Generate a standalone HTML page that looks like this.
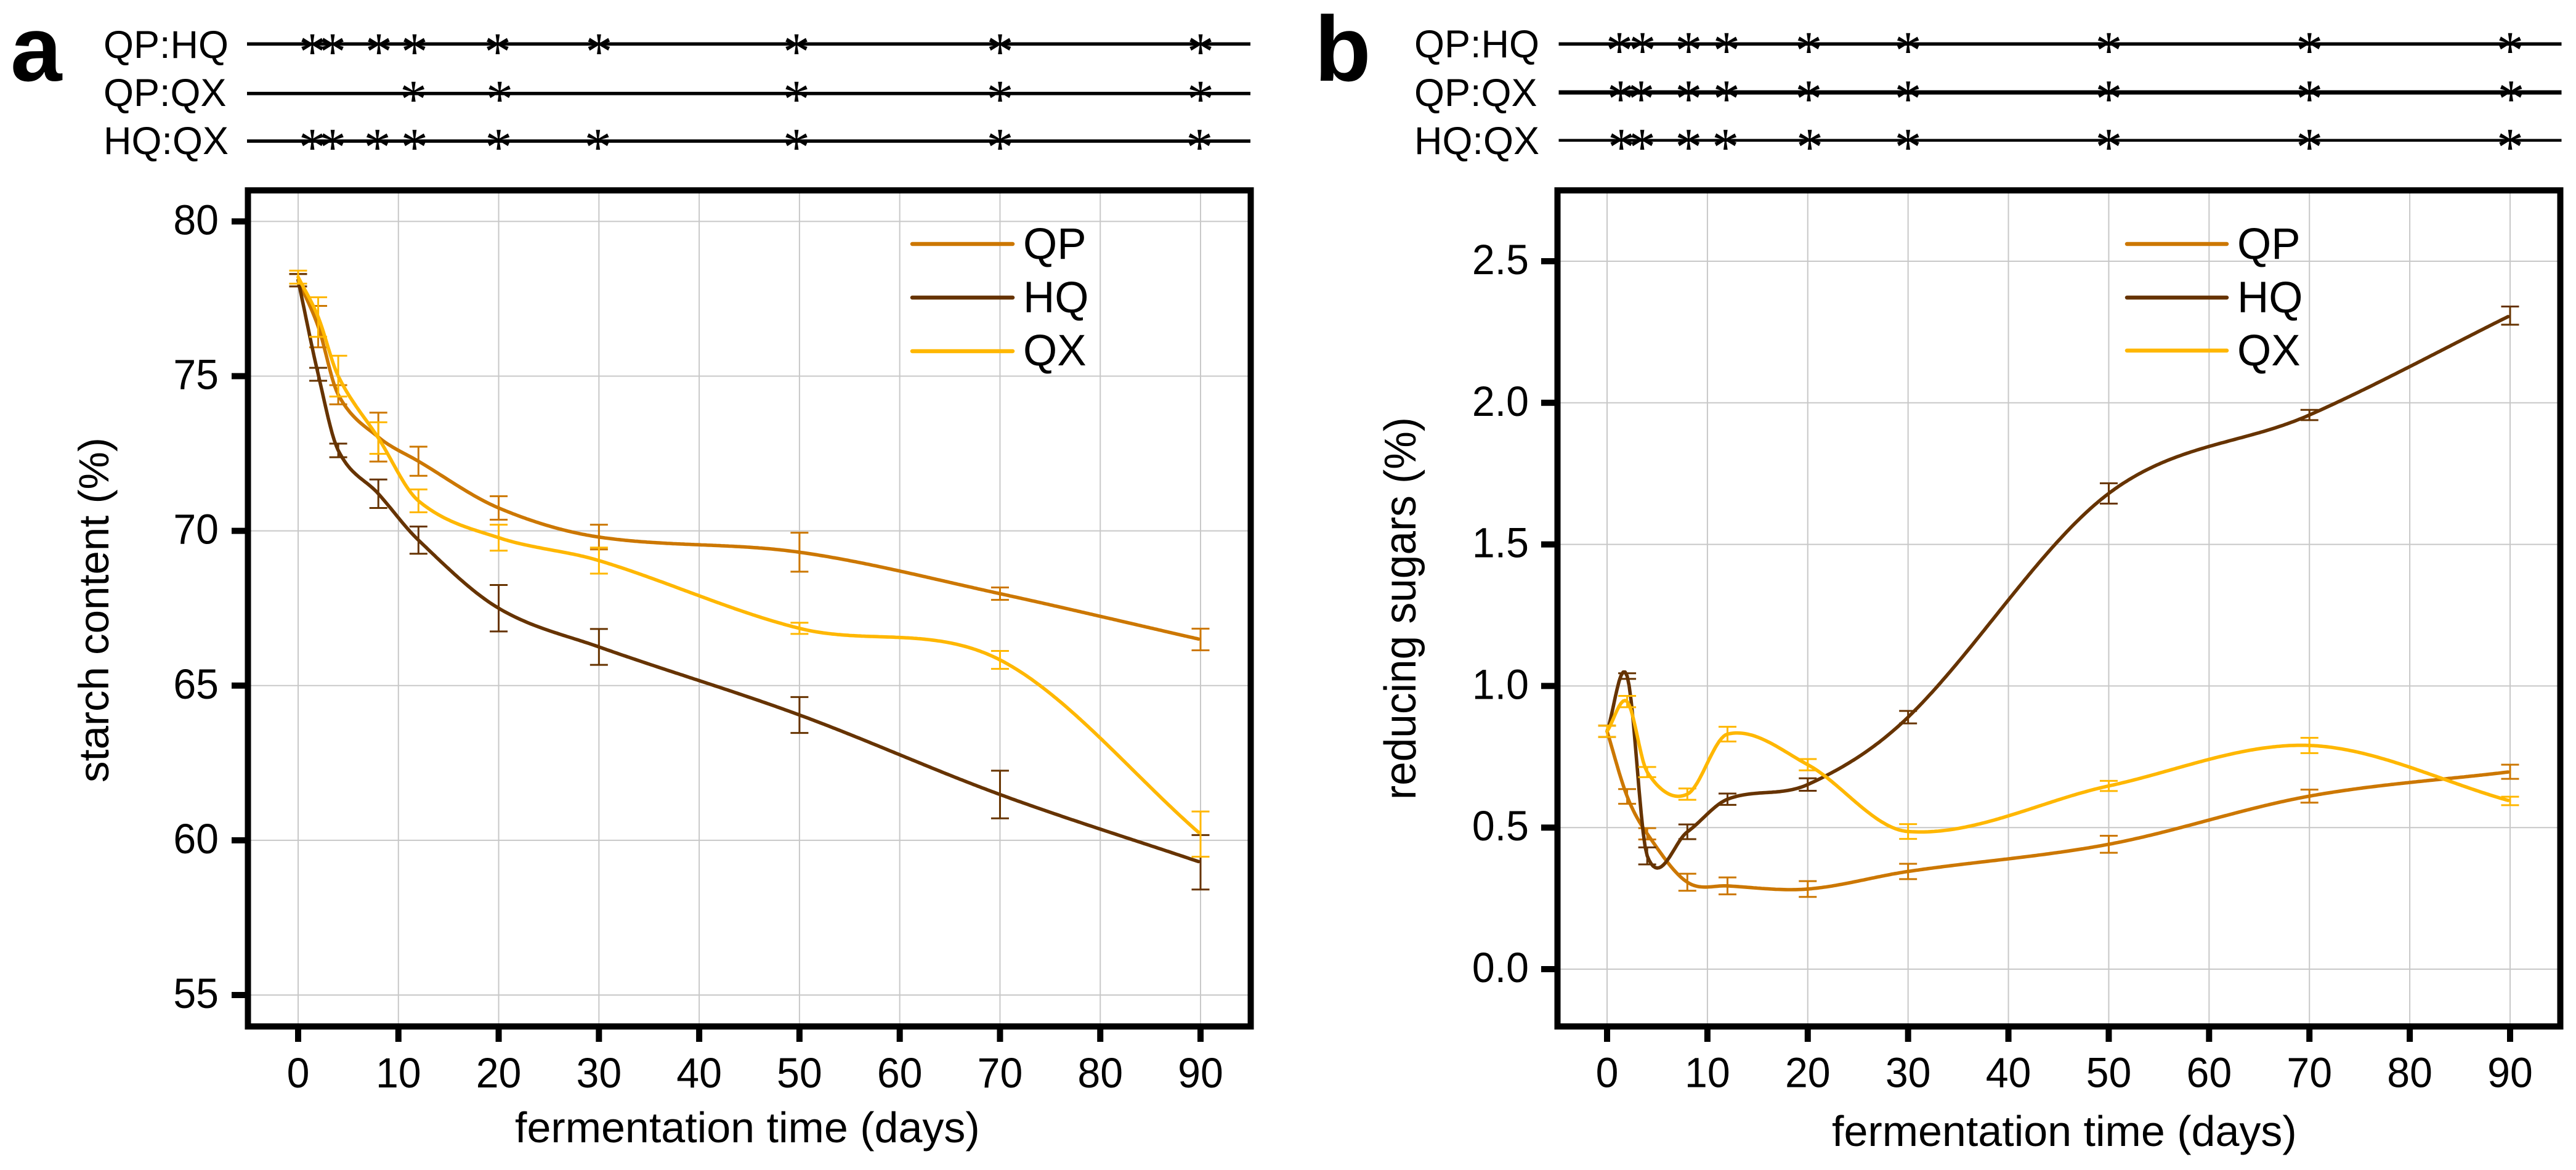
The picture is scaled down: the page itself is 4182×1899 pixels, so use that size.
<!DOCTYPE html>
<html lang="en">
<head>
<meta charset="utf-8">
<title>Starch content and reducing sugars during fermentation</title>
<style>
html,body{margin:0;padding:0;background:#fff;}
body{width:4182px;height:1899px;overflow:hidden;}
svg{display:block;}
text{font-family:"Liberation Sans",Arial,sans-serif;fill:#000;}
</style>
</head>
<body>
<svg id="figure" xmlns="http://www.w3.org/2000/svg" width="4182" height="1899" viewBox="0 0 4182 1899">
  <rect x="0" y="0" width="4182" height="1899" fill="#fff"/>

  <text x="17" y="131" font-size="150" font-weight="700">a</text>
  <text x="2134" y="131" font-size="150" font-weight="700">b</text>

  <g font-size="63">
    <text x="168" y="94">QP:HQ</text>
    <text x="168" y="172">QP:QX</text>
    <text x="168" y="250">HQ:QX</text>
  </g>
  <g font-size="63">
    <text x="2296" y="93">QP:HQ</text>
    <text x="2296" y="172">QP:QX</text>
    <text x="2296" y="250">HQ:QX</text>
  </g>

  <g id="panel-a"></g>
  <g id="panel-b"></g>

  <text transform="translate(176 1270) rotate(-90)" font-size="69">starch content (%)</text>
  <text x="836" y="1854" font-size="70">fermentation time (days)</text>
  <text transform="translate(2298 1298) rotate(-90)" font-size="72" textLength="621" lengthAdjust="spacingAndGlyphs">reducing sugars (%)</text>
  <text x="2974" y="1860" font-size="70">fermentation time (days)</text>

  <g>
    <line x1="1481" x2="1644" y1="396" y2="396" stroke="#cc7700" stroke-width="6.5" stroke-linecap="round"/>
    <text x="1661" y="420" font-size="71">QP</text>
    <line x1="1481" x2="1644" y1="483" y2="483" stroke="#663300" stroke-width="6.5" stroke-linecap="round"/>
    <text x="1661" y="507" font-size="71">HQ</text>
    <line x1="1481" x2="1644" y1="570" y2="570" stroke="#ffb700" stroke-width="6.5" stroke-linecap="round"/>
    <text x="1661" y="593" font-size="71">QX</text>
  </g>
  <g>
    <line x1="3453" x2="3615" y1="396" y2="396" stroke="#cc7700" stroke-width="6.5" stroke-linecap="round"/>
    <text x="3632" y="420" font-size="71">QP</text>
    <line x1="3453" x2="3615" y1="483" y2="483" stroke="#663300" stroke-width="6.5" stroke-linecap="round"/>
    <text x="3632" y="507" font-size="71">HQ</text>
    <line x1="3453" x2="3615" y1="569" y2="569" stroke="#ffb700" stroke-width="6.5" stroke-linecap="round"/>
    <text x="3632" y="593" font-size="71">QX</text>
  </g>
</svg>

<script>
// ---- shared data ----
var days = [0, 2, 4, 8, 12, 20, 30, 50, 70, 90];
var xTickLabels = ['0', '10', '20', '30', '40', '50', '60', '70', '80', '90'];
var seriesNames = ['QP', 'HQ', 'QX'];
var seriesColors = ['#cc7700', '#663300', '#ffb700'];

// ---- panel a: starch content (%) ----
var yTickLabelsA = ['55', '60', '65', '70', '75', '80'];
var starchQP = [78.1, 76.6, 74.4, 73.03, 72.25, 70.74, 69.8, 69.31, 67.97, 66.49];
var starchQPErr = [0.2, 0.67, 0.31, 0.79, 0.47, 0.38, 0.4, 0.63, 0.2, 0.35];
var starchHQ = [78.1, 75.06, 72.6, 71.2, 69.7, 67.5, 66.25, 64.05, 61.48, 59.29];
var starchHQErr = [0.2, 0.21, 0.22, 0.46, 0.44, 0.75, 0.58, 0.58, 0.77, 0.88];
var starchQX = [78.2, 76.91, 75.0, 73.0, 70.97, 69.78, 69.04, 66.85, 65.83, 60.2];
var starchQXErr = [0.21, 0.64, 0.66, 0.51, 0.37, 0.42, 0.42, 0.18, 0.29, 0.73];
var sigDaysA1 = [1.41, 3.44, 8.05, 11.6, 19.9, 30, 49.7, 70, 90];
var sigDaysA2 = [11.5, 20.1, 49.7, 70, 90];
var sigDaysA3 = [1.41, 3.44, 7.9, 11.6, 20, 29.9, 49.7, 70, 89.9];

// ---- panel b: reducing sugars (%) ----
var yTickLabelsB = ['0.0', '0.5', '1.0', '1.5', '2.0', '2.5'];
var sugarQP = [0.84, 0.61, 0.478, 0.307, 0.294, 0.283, 0.345, 0.441, 0.611, 0.697];
var sugarQPErr = [0.02, 0.026, 0.02, 0.03, 0.03, 0.028, 0.027, 0.03, 0.023, 0.025];
var sugarHQ = [0.84, 1.035, 0.40, 0.485, 0.60, 0.652, 0.89, 1.68, 1.957, 2.308];
var sugarHQErr = [0.02, 0.01, 0.03, 0.026, 0.02, 0.022, 0.022, 0.036, 0.018, 0.032];
var sugarQX = [0.84, 0.945, 0.696, 0.618, 0.83, 0.722, 0.486, 0.647, 0.79, 0.594];
var sugarQXErr = [0.02, 0.02, 0.018, 0.02, 0.026, 0.02, 0.026, 0.018, 0.027, 0.015];
var sigDaysB1 = [1.23, 3.53, 8.13, 11.9, 20.1, 30, 50, 70, 90];
var sigDaysB2 = [1.35, 3.4, 8.13, 11.9, 20.1, 30, 50, 70, 90.1];
var sigDaysB3 = [1.42, 3.5, 8.13, 11.8, 20.2, 30, 50, 70, 90];

// ---- axis functions ----
function xA(d) { return 484 + d * (1949 - 484) / 90; }
function yA(v) { return 359.4 + (80 - v) * (1615 - 359.4) / 25; }
function xB(d) { return 2609 + d * (4075 - 2609) / 90; }
function yB(v) { return 1573 - v * (1573 - 424) / 2.5; }

var NS = 'http://www.w3.org/2000/svg';
function make(tag, parent, attrs) {
  var el = document.createElementNS(NS, tag);
  for (var k in attrs) { el.setAttribute(k, attrs[k]); }
  parent.appendChild(el);
  return el;
}

// cubic Hermite through the read values with central-difference tangents, used only to draw the smooth line
function smooth(xs, ys) {
  var n = xs.length, m = [], i;
  for (i = 0; i < n; i++) {
    var a = Math.max(i - 1, 0), b = Math.min(i + 1, n - 1);
    m[i] = (ys[b] - ys[a]) / (xs[b] - xs[a]);
  }
  return function (t) {
    var j = 0;
    while (j < n - 2 && t > xs[j + 1]) { j++; }
    var h = xs[j + 1] - xs[j], u = (t - xs[j]) / h, u2 = u * u, u3 = u2 * u;
    return (2 * u3 - 3 * u2 + 1) * ys[j] + (u3 - 2 * u2 + u) * h * m[j] +
           (-2 * u3 + 3 * u2) * ys[j + 1] + (u3 - u2) * h * m[j + 1];
  };
}

function drawPanel(id, fx, fy, left, right, top, bottom, yLabels, labelX, tickLeft, valueSets, errSets, sigSets, rowYs, rowStars, rowWidths, lineL, lineR, xBase) {
  var root = document.getElementById(id);
  var gridG = make('g', root, { stroke: '#c8c8c8', 'stroke-width': 2 });
  
  
  xTickLabels.forEach(function (lab) {
    var x = fx(Number(lab));
    var g = make('line', gridG, { x1: x, x2: x, y1: top, y2: bottom });
    
    
  });
  yLabels.forEach(function (lab) {
    var y = fy(Number(lab));
    var g = make('line', gridG, { x1: left, x2: right, y1: y, y2: y });
    
    
  });

  // series: error bars then smooth line
  seriesNames.forEach(function (name, s) {
    var vals = valueSets[s], errs = errSets[s], col = seriesColors[s];
    var g = make('g', root, {});
    
    
    days.forEach(function (d, i) {
      var x = fx(d), yHi = fy(vals[i] + errs[i]), yLo = fy(vals[i] - errs[i]);
      var eb = make('path', g, {
        d: 'M' + (x - 14.5) + ' ' + yHi + 'H' + (x + 14.5) + 'M' + x + ' ' + yHi + 'V' + yLo + 'M' + (x - 14.5) + ' ' + yLo + 'H' + (x + 14.5),
        fill: 'none', stroke: col, 'stroke-width': 3
      });
      
      
    });
    var f = smooth(days, vals), pts = [];
    for (var t = 0; t <= 90; t += 0.2) { pts.push(fx(t).toFixed(1) + ',' + fy(f(t)).toFixed(1)); }
    var line = make('polyline', g, { points: pts.join(' '), fill: 'none', stroke: col, 'stroke-width': 5.6, 'stroke-linejoin': 'round', 'stroke-linecap': 'round' });
    
    
  });

  // frame
  var frame = make('rect', root, { x: left - 4.5, y: top - 4.5, width: right - left + 9, height: bottom - top + 9, fill: 'none', stroke: '#000', 'stroke-width': 10 });
  
  

  // ticks and labels
  xTickLabels.forEach(function (lab) {
    var x = fx(Number(lab));
    var tk = make('line', root, { x1: x, x2: x, y1: bottom + 5, y2: 1691, stroke: '#000', 'stroke-width': 10 });
    
    
    var tx = make('text', root, { transform: 'translate(' + x + ' ' + xBase + ') scale(0.96 1)', 'font-size': 69, 'text-anchor': 'middle' });
    tx.textContent = lab;
    
    
  });
  yLabels.forEach(function (lab) {
    var y = fy(Number(lab));
    var tk = make('line', root, { x1: tickLeft, x2: left - 5, y1: y, y2: y, stroke: '#000', 'stroke-width': 10 });
    
    
    var tx = make('text', root, { transform: 'translate(' + labelX + ' ' + (y + 21) + ') scale(0.96 1)', 'font-size': 69, 'text-anchor': 'end' });
    tx.textContent = lab;
    
    
  });

  // significance rows
  sigSets.forEach(function (set, r) {
    var row = make('g', root, {});
    
    
    var ln = make('line', row, { x1: lineL, x2: lineR, y1: rowYs[r], y2: rowYs[r], stroke: '#000', 'stroke-width': rowWidths[r] });
    
    
    set.forEach(function (d) {
      var st = make('text', row, { x: fx(d), y: rowStars[r] + 41, 'text-anchor': 'middle', 'font-size': 88, style: 'font-family:"Liberation Serif",serif' });
      st.textContent = '*';
      
      
    });
  });
}

drawPanel('panel-a', xA, yA, 407, 2026, 313.5, 1661.5, yTickLabelsA, 355, 376,
  [starchQP, starchHQ, starchQX], [starchQPErr, starchHQErr, starchQXErr],
  [sigDaysA1, sigDaysA2, sigDaysA3], [71.4, 151.8, 229], [72.3, 149.6, 227.7], [5.5, 5.5, 5.5], 401, 2030, 1765);

drawPanel('panel-b', xB, yB, 2533, 4152, 313.5, 1661.5, yTickLabelsB, 2482, 2502,
  [sugarQP, sugarHQ, sugarQX], [sugarQPErr, sugarHQErr, sugarQXErr],
  [sigDaysB1, sigDaysB2, sigDaysB3], [71.4, 150, 227.7], [70.5, 149, 227.7], [5.5, 7, 4.5], 2530.5, 4158.5, 1764.5);
</script>
</body>
</html>
